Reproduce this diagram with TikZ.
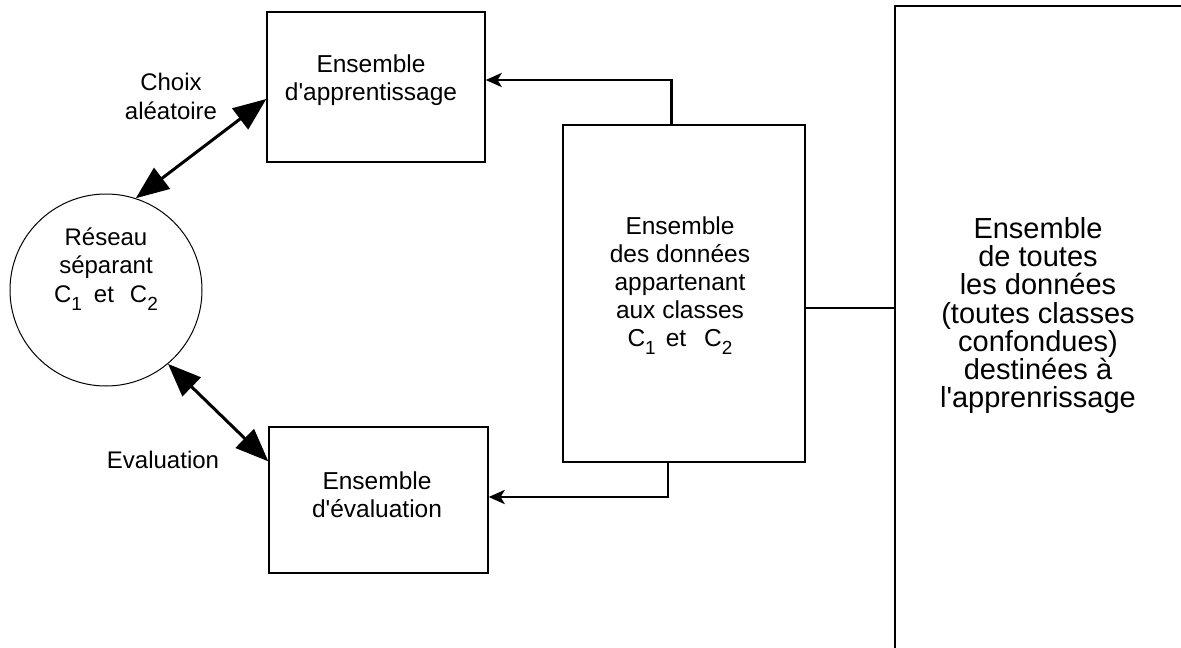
\documentclass[tikz,border=0pt]{standalone}
\usepackage{fontspec}
\setmainfont{Liberation Sans}
\usetikzlibrary{arrows.meta,calc}
\newcommand{\lowsub}[1]{\raisebox{-8pt}{\fontsize{19}{19}\selectfont #1}}
\newcommand{\sq}{\textquotesingle}
\begin{document}
\begin{tikzpicture}[x=1pt,y=-1pt,
  box/.style={draw, line width=1.3pt, rectangle, inner sep=0pt},
  txt/.style={align=center, inner sep=0pt, font=\fontsize{24.5}{28}\selectfont},
  bigtxt/.style={align=center, inner sep=0pt, font=\fontsize{29}{28.3}\selectfont},
  lbl/.style={align=center, inner sep=0pt, font=\fontsize{24}{29}\selectfont},
  conn/.style={line width=2.8pt, -{Stealth[length=16pt,width=14pt,inset=4pt]}},
  plainline/.style={line width=2.6pt},
  dbl/.style={line width=3pt, {Triangle[length=33pt,width=26pt]}-{Triangle[length=33pt,width=26pt]}},
]
\useasboundingbox (0,0) rectangle (1181,648);

% boxes
\node[box, minimum width=218pt, minimum height=150pt] (app) at (376,87) {};
\node[txt] (appT) at (371,80) {Ensemble\\d\sq apprentissage};

\node[box, minimum width=219pt, minimum height=146pt] (eval) at (378.5,500) {};
\node[txt] (evalT) at (377,494.5) {Ensemble\\d\sq évaluation};

\node[box, minimum width=242pt, minimum height=337pt] (data) at (684,293.5) {};
\node[txt] (dataT) at (680,286) {Ensemble\\des données\\appartenant\\aux classes\\C\lowsub{1}\hspace{10pt}et\hspace{18pt}C\lowsub{2}};

\node[draw, circle, line width=1pt, minimum size=192pt, inner sep=0pt] (res) at (106,290) {};
\node[lbl, font=\fontsize{24}{28.5}\selectfont] (resT) at (106,269) {Réseau\\séparant\\C\lowsub{1}\hspace{12pt}et\hspace{16pt}C\lowsub{2}};

% big box (partially off the page)
\draw[line width=1.3pt] (1200,6) -- (895,6) -- (895,670);
\coordinate (allL) at (895,308);
\node[bigtxt] (allT) at (1038,315.5) {Ensemble\\de toutes\\les données\\(toutes classes\\confondues)\\destinées à\\l\sq apprenrissage};

% labels
\node[lbl] (choix) at (171,96) {Choix\\aléatoire};
\node[lbl] (evl) at (163,460) {Evaluation};

% connectors
\draw[conn] ($(data.north west)!0.45!(data.north east)$) |- ($(app.east)+(0,-7)$);
\draw[conn] ($(data.south west)!0.434!(data.south east)$) |- ($(eval.east)+(0,-3)$);
\draw[plainline] (allL -| data.east) -- (allL);

\draw[dbl] (res.72) -- ($(app.west)+(0,12)$);
\draw[dbl] (res.-50) -- ($(eval.north west)+(0,35)$);
\end{tikzpicture}
\end{document}
